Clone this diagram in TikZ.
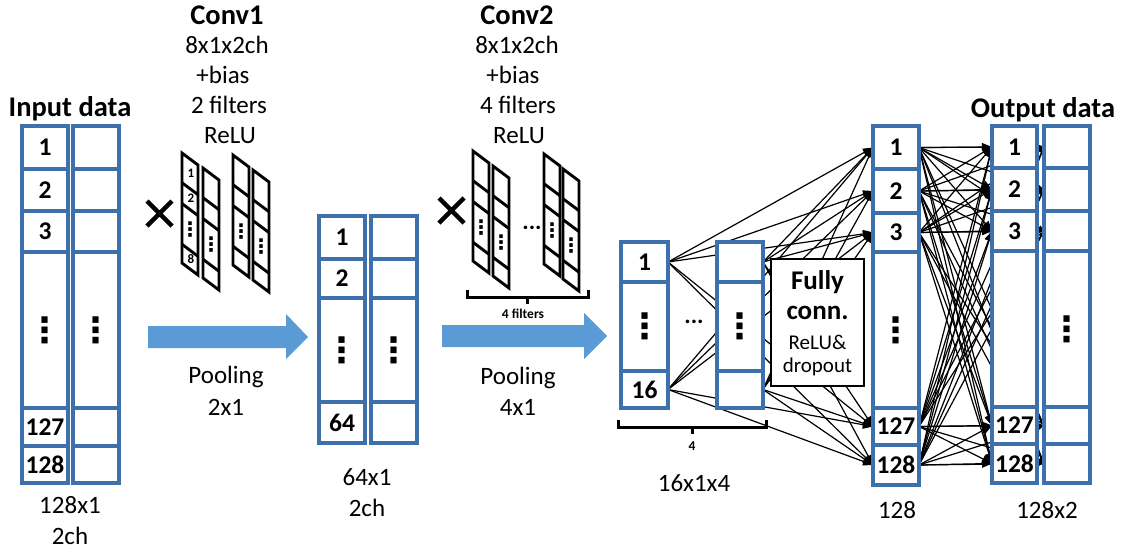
\documentclass[tikz,border=0pt]{standalone}
\usepackage{fontspec}
\setmainfont{Carlito}
\newfontfamily\djv{DejaVu Sans}
\usetikzlibrary{arrows.meta}
\pgfdeclarelayer{bg}
\pgfsetlayers{bg,main}
\definecolor{colblue}{RGB}{62,112,172}
\definecolor{arrblue}{RGB}{91,155,213}
\newcommand\bigvdt{{\fontsize{35}{35}\djv ⋮}}
\newcommand\smvdt{{\fontsize{20}{20}\djv ⋮}}
\newcommand\cel[6]{\node[cell, minimum width=#4pt, minimum height=#5pt] (#1) at (#2,#3) {#6};}
\newcommand\fstrip[2]{%
  \draw[filt] (#1,#2) -- ++(16,12) -- ++(0,110) -- ++(-16,-12) -- cycle;
  \foreach \f in {29.7,50.6,91.3} {\draw[filt] (#1,#2+\f) -- ++(16,12);}}
\begin{document}
\begin{tikzpicture}[x=1pt,y=-1pt,
  cell/.style={draw=colblue, line width=3.2pt, fill=white, anchor=north west, inner sep=0pt, outer sep=0pt,
    font=\fontsize{25.5}{25.5}\selectfont\bfseries},
  lbl/.style={font=\fontsize{25}{25}\selectfont, inner sep=0pt},
  blbl/.style={font=\fontsize{28.5}{28.5}\selectfont\bfseries, inner sep=0pt},
  slbl/.style={font=\fontsize{13}{13}\selectfont\bfseries, inner sep=0pt},
  filt/.style={draw=black, line width=2.9pt, line join=miter},
  brc/.style={draw=black, line width=3pt},
  conn/.style={line width=1.2pt, -{Triangle[length=10pt,width=8pt]}},
  xmark/.style={line width=4.5pt}]
\useasboundingbox (0,0) rectangle (1128,552);

% ---------- Input data ----------
\node[blbl] (tin) at (70,109) {Input data};
\cel{a1}{22}{126}{46}{43}{1}
\cel{a2}{22}{169}{46}{42}{2}
\cel{a3}{22}{211}{46}{41}{3}
\cel{a4}{22}{252}{46}{156}{\bigvdt}
\cel{a5}{22}{408}{46}{38}{127}
\cel{a6}{22}{446}{46}{37}{128}
\cel{b1}{73}{126}{46}{43}{}
\cel{b2}{73}{169}{46}{42}{}
\cel{b3}{73}{211}{46}{41}{}
\cel{b4}{73}{252}{46}{156}{\bigvdt}
\cel{b5}{73}{408}{46}{38}{}
\cel{b6}{73}{446}{46}{37}{}
\node[lbl] (tin2) at (70,505) {128x1};
\node[lbl] (tin3) at (70,536) {2ch};

% ---------- Conv1 ----------
\node[blbl] (c1t1) at (227,15) {Conv1};
\node[lbl] (c1t2) at (227,45) {8x1x2ch};
\node[lbl] (c1t3) at (223,75) {+bias};
\node[lbl] (c1t4) at (229,105) {2 filters};
\node[lbl] (c1t5) at (230,136) {ReLU};
\draw[xmark] (147,201) -- (172,226) (147,226) -- (172,201);
\fstrip{182}{153}
\fstrip{203}{168}
\fstrip{233}{155}
\fstrip{253}{170}
\node[slbl] (f1a) at (191,173) {1};
\node[slbl] (f1b) at (191,198) {2};
\node[slbl] (f1c) at (190,230) {\smvdt};
\node[slbl] (f1d) at (191,259) {8};
\node[slbl] (f2c) at (211,245) {\smvdt};
\node[slbl] (f3c) at (241,232) {\smvdt};
\node[slbl] (f4c) at (261,247) {\smvdt};

% ---------- Pooling 1 ----------
\fill[arrblue] (148,326) -- (286,326) -- (286,314) -- (308,337) -- (286,359) -- (286,348) -- (148,348) -- cycle;
\node[lbl] (p1t) at (226,377) {Pooling};
\node[lbl] (p1u) at (226,407) {2x1};

% ---------- 64x1 ----------
\cel{m1}{319}{216}{46}{43}{1}
\cel{m2}{319}{259}{46}{39}{2}
\cel{m3}{319}{298}{46}{104}{\bigvdt}
\cel{m4}{319}{402}{46}{41}{64}
\cel{n1}{371}{216}{46}{43}{}
\cel{n2}{371}{259}{46}{39}{}
\cel{n3}{371}{298}{46}{104}{\bigvdt}
\cel{n4}{371}{402}{46}{41}{}
\node[lbl] (mt1) at (367,477) {64x1};
\node[lbl] (mt2) at (367,508) {2ch};

% ---------- Conv2 ----------
\node[blbl] (c2t1) at (517,15) {Conv2};
\node[lbl] (c2t2) at (517,45) {8x1x2ch};
\node[lbl] (c2t3) at (513,75) {+bias};
\node[lbl] (c2t4) at (518,105) {4 filters};
\node[lbl] (c2t5) at (519,136) {ReLU};
\draw[xmark] (439,198) -- (464,223) (439,223) -- (464,198);
\fstrip{473}{151}
\fstrip{493}{166}
\fstrip{544}{154}
\fstrip{563}{169}
\node[slbl] (g1c) at (481,228) {\smvdt};
\node[slbl] (g2c) at (501,243) {\smvdt};
\node[slbl] (g3c) at (552,231) {\smvdt};
\node[slbl] (g4c) at (571,246) {\smvdt};
\node[font=\fontsize{24}{24}\selectfont\bfseries, inner sep=0pt] (gdots) at (532,228) {...};
\draw[brc] (467,290) -- (467,297) -- (588,297) -- (588,290) (527.5,297) -- (527.5,304);
\node[font=\fontsize{13.5}{13.5}\selectfont\bfseries, inner sep=0pt] (g4f) at (523,314) {4 filters};

% ---------- Pooling 2 ----------
\fill[arrblue] (442,325) -- (584,325) -- (584,313) -- (607,336) -- (584,359) -- (584,347) -- (442,347) -- cycle;
\node[lbl] (p2t) at (518,378) {Pooling};
\node[lbl] (p2u) at (518,407) {4x1};

% ---------- 16x1x4 ----------
\cel{p1}{621}{242}{47}{40}{1}
\cel{p2}{621}{282}{47}{89}{\bigvdt}
\cel{p3}{621}{371}{47}{37}{16}
\cel{q1}{717}{242}{46}{40}{}
\cel{q2}{717}{282}{46}{89}{\bigvdt}
\cel{q3}{717}{371}{46}{37}{}
\node[font=\fontsize{24}{24}\selectfont\bfseries, inner sep=0pt] (pdots) at (694,322) {...};
\draw[brc] (618,420) -- (618,427) -- (766,427) -- (766,420) (692,427) -- (692,434);
\node[font=\fontsize{13.5}{13.5}\selectfont\bfseries, inner sep=0pt] (p4) at (692,446) {4};
\node[lbl] (pt) at (694,483) {16x1x4};

% ---------- Fully connected box ----------
\node[draw, line width=1.4pt, fill=white, minimum width=93pt, minimum height=127pt, inner sep=0pt, outer sep=0pt] (fc) at (817.5,322.5) {};
\node[font=\fontsize{27}{27}\selectfont\bfseries, inner sep=0pt] (fc1) at (817.5,282) {Fully};
\node[font=\fontsize{27}{27}\selectfont\bfseries, inner sep=0pt] (fc2) at (817.5,313) {conn.};
\node[font=\fontsize{21}{21}\selectfont, inner sep=0pt] (fc3) at (817.5,342) {ReLU\&};
\node[font=\fontsize{21}{21}\selectfont, inner sep=0pt] (fc4) at (817.5,367) {dropout};

% ---------- 128 ----------
\cel{h1}{873}{126}{46}{43}{1}
\cel{h2}{873}{169}{46}{44}{2}
\cel{h3}{873}{213}{46}{39}{3}
\cel{h4}{873}{252}{46}{156}{\bigvdt}
\cel{h5}{873}{408}{46}{37}{127}
\cel{h6}{873}{445}{46}{40}{128}
\node[lbl] (ht) at (897,510) {128};

% ---------- Output ----------
\node[blbl] (tout) at (1043,110) {Output data};
\cel{o1}{992}{126}{45}{42}{1}
\cel{o2}{992}{168}{45}{43}{2}
\cel{o3}{992}{211}{45}{40}{3}
\cel{o4}{992}{251}{45}{156}{}
\cel{o5}{992}{407}{45}{37}{127}
\cel{o6}{992}{444}{45}{39}{128}
\cel{r1}{1044}{126}{46}{42}{}
\cel{r2}{1044}{168}{46}{43}{}
\cel{r3}{1044}{211}{46}{40}{}
\cel{r4}{1044}{251}{46}{156}{\bigvdt}
\cel{r5}{1044}{407}{46}{37}{}
\cel{r6}{1044}{444}{46}{39}{}
\node[lbl] (ot) at (1047,510) {128x2};

% ---------- connectors ----------
\begin{pgfonlayer}{bg}
\foreach \s in {p1,p3,q1,q3} {
  \foreach \t in {h1,h2,h3,h5,h6} {\draw[conn] (\s.east) -- (\t.west);}}
\foreach \s in {h1,h2,h3,h5,h6} {
  \foreach \t in {o1,o2,o3,o5,o6} {\draw[conn] (\s.east) -- (\t.west);}
  \foreach \t in {r1,r2,r3,r5,r6} {\draw[line width=1.2pt, -{Triangle[length=6pt,width=5pt]}] (\s.east) -- (\t.west);}}
\end{pgfonlayer}
\end{tikzpicture}
\end{document}
